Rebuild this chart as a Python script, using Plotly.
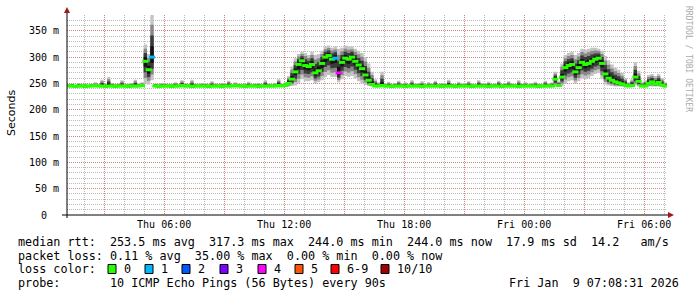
import plotly.graph_objects as go
from datetime import datetime, timedelta

# ---------------- data ----------------
start_time = datetime(2026, 1, 8, 1, 8, 31)
end_time = datetime(2026, 1, 9, 7, 8, 31)
step_minutes = 10

median_ms = [
    245, 245, 244, 245, 245, 244, 245, 245, 246, 245,
    245, 244, 245, 245, 244, 245, 245, 245, 244, 245,
    245, 245, 246, 292, 276, 300, 245, 244, 245, 245,
    245, 244, 245, 245, 246, 245, 245, 244, 245, 245,
    245, 245, 244, 245, 245, 245, 244, 245, 245, 245,
    246, 245, 245, 244, 245, 245, 245, 244, 245, 245,
    245, 245, 245, 246, 245, 246, 250, 258, 272, 286,
    293, 284, 282, 286, 270, 274, 288, 300, 303, 296,
    298, 270, 290, 298, 296, 300, 292, 285, 278, 266,
    256, 248, 245, 245, 246, 245, 245, 244, 245, 245,
    245, 244, 245, 245, 245, 245, 244, 245, 245, 245,
    245, 245, 244, 245, 245, 245, 244, 245, 245, 245,
    245, 244, 245, 245, 245, 245, 244, 245, 245, 245,
    244, 245, 245, 245, 245, 244, 245, 245, 245, 245,
    245, 244, 245, 245, 245, 245, 258, 246, 262, 280,
    284, 286, 272, 280, 290, 286, 288, 292, 296, 298,
    288, 268, 260, 256, 253, 251, 249, 247, 245, 246,
    262, 254, 245, 245, 250, 253, 249, 252, 247, 245,
]

smoke_hi_ms = [
    249, 250, 248, 251, 249, 250, 248, 250, 252, 249,
    257, 250, 262, 251, 249, 250, 256, 249, 250, 251,
    257, 250, 252, 324, 306, 382, 250, 249, 251, 250,
    249, 250, 252, 249, 256, 250, 249, 257, 250, 249,
    251, 250, 249, 254, 250, 249, 251, 250, 255, 249,
    252, 250, 249, 250, 253, 249, 250, 251, 249, 256,
    250, 249, 251, 258, 250, 252, 264, 282, 298, 306,
    310, 308, 304, 310, 304, 306, 312, 320, 322, 318,
    320, 316, 318, 322, 320, 320, 316, 312, 308, 300,
    288, 272, 258, 252, 272, 250, 253, 249, 251, 255,
    250, 252, 249, 256, 250, 251, 254, 249, 252, 250,
    255, 249, 251, 250, 257, 250, 249, 253, 250, 251,
    254, 250, 249, 256, 251, 250, 253, 249, 250, 255,
    249, 251, 254, 250, 249, 256, 250, 252, 249, 251,
    253, 250, 249, 255, 250, 252, 272, 254, 288, 304,
    308, 310, 304, 308, 316, 314, 316, 318, 318, 316,
    312, 302, 294, 286, 280, 276, 270, 260, 252, 258,
    290, 274, 252, 256, 266, 268, 264, 268, 260, 252,
]

smoke_lo_ms = [
    243, 243, 243, 243, 243, 243, 243, 243, 243, 243,
    243, 243, 243, 243, 243, 243, 243, 243, 243, 243,
    243, 243, 243, 250, 248, 256, 243, 243, 243, 243,
    243, 243, 243, 243, 243, 243, 243, 243, 243, 243,
    243, 243, 243, 243, 243, 243, 243, 243, 243, 243,
    243, 243, 243, 243, 243, 243, 243, 243, 243, 243,
    243, 243, 243, 243, 243, 243, 244, 245, 246, 250,
    258, 254, 254, 256, 250, 252, 256, 262, 266, 262,
    262, 252, 258, 264, 262, 264, 260, 254, 250, 247,
    245, 244, 243, 243, 243, 243, 243, 243, 243, 243,
    243, 243, 243, 243, 243, 243, 243, 243, 243, 243,
    243, 243, 243, 243, 243, 243, 243, 243, 243, 243,
    243, 243, 243, 243, 243, 243, 243, 243, 243, 243,
    243, 243, 243, 243, 243, 243, 243, 243, 243, 243,
    243, 243, 243, 243, 243, 243, 245, 243, 245, 250,
    254, 256, 250, 254, 260, 258, 260, 264, 268, 270,
    258, 248, 246, 245, 244, 244, 244, 243, 243, 243,
    246, 244, 243, 243, 244, 244, 244, 244, 243, 243,
]

# lost pings (out of 10) for the few intervals that had loss; others 0
loss_events = {25: 1, 80: 1, 81: 4}

loss_labels = ["0", "1", "2", "3", "4", "5", "6-9", "10/10"]
loss_colors = ["#26ff00", "#00b8ff", "#0059ff", "#7e00ff", "#ff00ff",
               "#ff5500", "#ff0000", "#a00000"]

y_tick_values = [0, 50, 100, 150, 200, 250, 300, 350]
y_tick_labels = ["0\u00a0\u00a0", "50 m", "100 m", "150 m", "200 m",
                 "250 m", "300 m", "350 m"]

x_tick_times = [datetime(2026, 1, 8, 3), datetime(2026, 1, 8, 6),
                datetime(2026, 1, 8, 9), datetime(2026, 1, 8, 12),
                datetime(2026, 1, 8, 15), datetime(2026, 1, 8, 18),
                datetime(2026, 1, 8, 21), datetime(2026, 1, 9, 0),
                datetime(2026, 1, 9, 3), datetime(2026, 1, 9, 6)]
x_tick_labels = ["", "Thu 06:00", "", "Thu 12:00", "", "Thu 18:00",
                 "", "Fri 00:00", "", "Fri 06:00"]

legend_rtt = "median rtt:  253.5 ms avg  317.3 ms max  244.0 ms min  244.0 ms now  17.9 ms sd  14.2   am/s"
legend_loss = "packet loss: 0.11 % avg  35.00 % max  0.00 % min  0.00 % now"
legend_color = "loss color:"
legend_probe = "probe:       10 ICMP Echo Pings (56 Bytes) every 90s"
legend_stamp = "Fri Jan  9 07:08:31 2026"
watermark = "RRDTOOL / TOBI OETIKER"

# ---------------- geometry helpers ----------------
W, H = 697, 297
PL, PR, PT, PB = 67, 667, 15, 215


def px(x):
    return (x - PL) / (PR - PL)


def py(y):
    return (PB - y) / (PB - PT)


def nb(s):
    return s.replace(" ", "\u00a0")


MONO = "DejaVu Sans Mono"

n = len(median_ms)
times = [start_time + timedelta(minutes=step_minutes * k) for k in range(n + 1)]
mid_times = [start_time + timedelta(minutes=step_minutes * k + step_minutes / 2) for k in range(n)]


def ext(v):
    return list(v) + [v[-1]]


# smoke shading levels (fraction of spread around the median)
shades = [(1.0, "#c4c4c4"), (0.75, "#888888"), (0.5, "#3a3a3a"), (0.25, "#111111")]

fig = go.Figure()
for frac, col in shades:
    lo = [m - frac * (m - l) for m, l in zip(median_ms, smoke_lo_ms)]
    hi = [m + frac * (h - m) for m, h in zip(median_ms, smoke_hi_ms)]
    fig.add_trace(go.Scatter(x=times, y=ext(lo), mode="lines",
                             line=dict(width=0, shape="hv"),
                             hoverinfo="skip", showlegend=False))
    fig.add_trace(go.Scatter(x=times, y=ext(hi), mode="lines",
                             line=dict(width=0, shape="hv"),
                             fill="tonexty", fillcolor=col,
                             hoverinfo="skip", showlegend=False))


def loss_color(k):
    lv = loss_events.get(k, 0)
    if lv <= 5:
        return loss_colors[lv]
    if lv < 10:
        return loss_colors[6]
    return loss_colors[7]


med_colors = [loss_color(k) for k in range(n)]
fig.add_trace(go.Scatter(
    x=mid_times, y=median_ms, mode="markers",
    marker=dict(symbol="line-ew", size=4.4,
                line=dict(width=3, color=med_colors)),
    hoverinfo="skip", showlegend=False))

shapes = []
# axes lines and arrows
shapes.append(dict(type="line", xref="paper", yref="paper",
                   x0=px(62), x1=px(669), y0=py(215), y1=py(215),
                   line=dict(color="#000000", width=1)))
shapes.append(dict(type="line", xref="paper", yref="paper",
                   x0=px(67), x1=px(67), y0=py(218), y1=py(10),
                   line=dict(color="#000000", width=1)))
shapes.append(dict(type="path", xref="paper", yref="paper",
                   path=f"M {px(668)} {py(212)} L {px(674)} {py(215)} L {px(668)} {py(218)} Z",
                   fillcolor="#a01818", line=dict(width=0)))
shapes.append(dict(type="path", xref="paper", yref="paper",
                   path=f"M {px(64)} {py(13)} L {px(67)} {py(7)} L {px(70)} {py(13)} Z",
                   fillcolor="#a01818", line=dict(width=0)))

annotations = []
LEG_FS = 11.75
line_y = [241.5, 255.5, 269, 283]
for txt, yy in [(legend_rtt, line_y[0]), (legend_loss, line_y[1]),
                (legend_color, line_y[2]), (legend_probe, line_y[3])]:
    annotations.append(dict(text=nb(txt), xref="paper", yref="paper",
                            x=px(16), y=py(yy), xanchor="left", yanchor="middle",
                            showarrow=False, font=dict(family=MONO, size=LEG_FS, color="#000")))
annotations.append(dict(text=nb(legend_stamp), xref="paper", yref="paper",
                        x=px(681), y=py(line_y[3]), xanchor="right", yanchor="middle",
                        showarrow=False, font=dict(family=MONO, size=LEG_FS, color="#000")))

box_x = [108, 145, 182, 220, 258, 295, 331, 381]
for bx, lab, col in zip(box_x, loss_labels, loss_colors):
    shapes.append(dict(type="rect", xref="paper", yref="paper",
                       x0=px(bx), x1=px(bx + 8), y0=py(line_y[2] - 4.5), y1=py(line_y[2] + 4.5),
                       fillcolor=col, line=dict(color="#000000", width=1)))
    annotations.append(dict(text=nb(lab), xref="paper", yref="paper",
                            x=px(bx + 14), y=py(line_y[2]), xanchor="left", yanchor="middle",
                            showarrow=False, font=dict(family=MONO, size=LEG_FS, color="#000")))

annotations.append(dict(text="Seconds", xref="paper", yref="paper",
                        x=px(11), y=py(113), xanchor="center", yanchor="middle",
                        textangle=-90, showarrow=False,
                        font=dict(family="DejaVu Sans", size=11, color="#000")))
annotations.append(dict(text=nb(watermark), xref="paper", yref="paper",
                        x=px(688), y=py(59), xanchor="center", yanchor="middle",
                        textangle=90, showarrow=False,
                        font=dict(family=MONO, size=8, color="#aaaaaa")))

fig.update_layout(
    width=W, height=H,
    margin=dict(l=PL, r=W - PR, t=PT, b=H - PB),
    paper_bgcolor="white", plot_bgcolor="white",
    showlegend=False,
    shapes=shapes, annotations=annotations,
    xaxis=dict(type="date", range=[start_time, end_time],
               tickvals=x_tick_times, ticktext=x_tick_labels,
               ticks="", showline=False, zeroline=False,
               showgrid=True, gridcolor="rgba(220,110,110,0.75)", griddash="1px,1px", gridwidth=1,
               minor=dict(dtick=3600000, tick0="2026-01-08 00:00:00", showgrid=True,
                          gridcolor="rgba(170,170,170,0.8)", griddash="1px,1px", gridwidth=1),
               tickfont=dict(family=MONO, size=10, color="#000"),
               ticklabelstandoff=2, fixedrange=True),
    yaxis=dict(range=[0, 380], tickvals=y_tick_values, ticktext=y_tick_labels,
               ticks="", showline=False, zeroline=False,
               showgrid=True, gridcolor="rgba(220,110,110,0.75)", griddash="1px,1px", gridwidth=1,
               minor=dict(dtick=10, tick0=0, showgrid=True,
                          gridcolor="rgba(170,170,170,0.8)", griddash="1px,1px", gridwidth=1),
               tickfont=dict(family=MONO, size=10, color="#000"),
               ticklabelstandoff=7, fixedrange=True),
)

fig.write_html("out.html")
